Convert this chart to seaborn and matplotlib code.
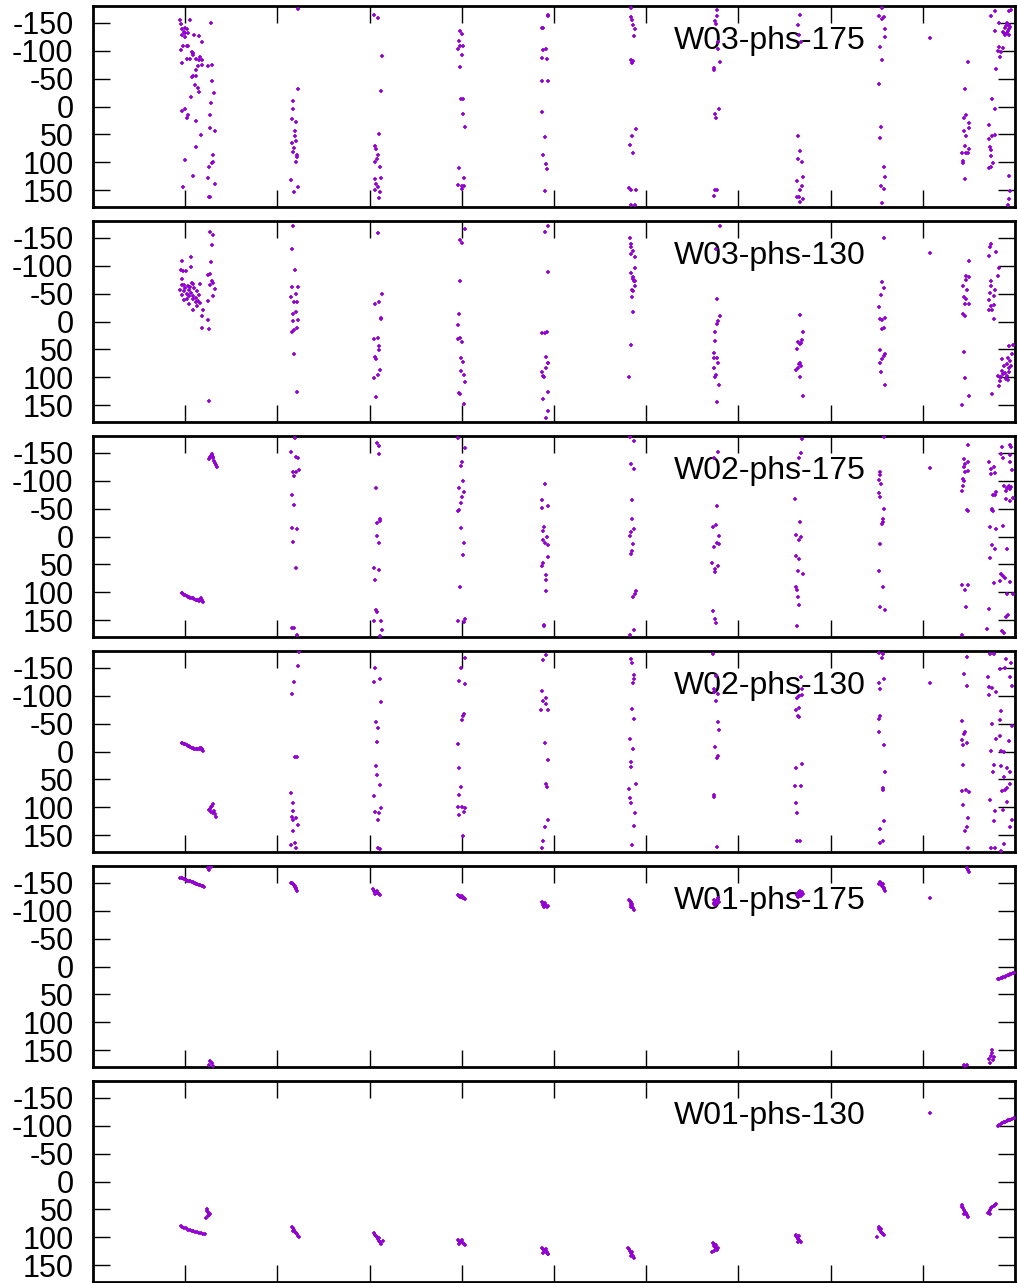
import matplotlib
matplotlib.use("Agg")
import matplotlib.pyplot as plt
import seaborn as sns
import pandas as pd

# ---------------- data (x, phase in degrees) ----------------
W03_175 = [
    (0.94,-155),(0.95,-148),(1.05,-155),(1.28,-150),(0.97,-138),(1.00,-140),(1.02,-138),(0.99,-134),(0.97,-128),(1.00,-131),
    (1.03,-131),(1.10,-128),(1.15,-126),(1.00,-124),(1.18,-115),(0.98,-109),(1.02,-108),(1.03,-108),(0.95,-102),(1.07,-97),
    (1.08,-93),(1.09,-96),(1.16,-88),(1.15,-84),(1.02,-85),(1.05,-85),(1.12,-85),(1.18,-84),(0.96,-78),(1.25,-73),
    (1.14,-73),(1.18,-75),(1.29,-74),(1.12,-65),(1.09,-54),(1.07,-52),(1.12,-55),(1.29,-46),(1.11,-39),(1.14,-33),
    (1.15,-26),(1.31,-24),(1.06,-17),(1.28,-7),(0.96,8),(1.00,5),(1.03,15),(1.02,21),(1.27,15),(1.12,26),
    (1.27,38),(1.32,44),(1.17,51),(1.12,72),(1.30,87),(1.30,100),(1.29,102),(1.26,109),(1.00,96),(1.08,125),
    (1.25,128),(1.32,139),(0.98,145),(1.26,162),(1.27,162),
    (2.22,-174),(2.22,-32),(2.17,-10),(2.17,5),(2.16,22),(2.20,28),(2.19,44),(2.19,53),(2.20,62),(2.16,66),
    (2.18,74),(2.17,81),(2.21,87),(2.21,90),(2.20,100),(2.15,131),(2.22,144),(2.18,154),
    (3.05,-164),(3.09,-158),(3.13,-90),(3.12,-27),(3.10,49),(3.06,71),(3.07,77),(3.09,87),(3.08,94),(3.06,100),
    (3.11,108),(3.06,130),(3.12,128),(3.07,138),(3.09,145),(3.06,149),(3.11,154),(3.10,163),
    (3.98,-136),(4.00,-130),(3.97,-117),(3.98,-109),(4.01,-109),(3.96,-103),(4.00,-93),(3.98,-71),(3.99,-14),(4.01,-13),
    (4.01,14),(4.03,37),(3.97,111),(4.02,128),(3.96,140),(4.00,143),(4.02,142),(4.00,148),
    (4.93,-164),(4.94,-162),(4.87,-140),(4.88,-140),(4.88,-102),(4.91,-103),(4.87,-86),(4.92,-85),(4.87,-45),(4.93,-45),
    (4.87,10),(4.90,55),(4.88,86),(4.91,103),(4.92,112),(4.90,152),
    (5.83,-176),(5.84,-160),(5.85,-155),(5.86,-146),(5.88,-139),(5.87,-127),(5.84,-84),(5.86,-82),(5.85,-78),(5.89,41),
    (5.85,53),(5.82,69),(5.86,83),(5.81,146),(5.83,150),(5.89,149),(5.83,176),(5.88,176),
    (6.77,-173),(6.77,-162),(6.75,-154),(6.76,-148),(6.78,-115),(6.78,-103),(6.80,-80),(6.73,-69),(6.73,-65),(6.79,5),
    (6.75,13),(6.76,20),(6.75,149),(6.77,149),(6.74,161),
    (7.67,-164),(7.65,-146),(7.66,-128),(7.68,-115),(7.65,53),(7.67,80),(7.65,94),(7.69,99),(7.64,134),(7.70,127),
    (7.69,142),(7.67,149),(7.64,162),(7.66,162),(7.70,166),(7.67,171),
    (8.56,-176),(8.53,-162),(8.58,-160),(8.56,-157),(8.59,-138),(8.59,-124),(8.54,-106),(8.56,-84),(8.53,-41),(8.55,36),
    (8.54,56),(8.58,108),(8.59,127),(8.55,142),(8.58,148),(8.56,172),
    (9.49,-79),(9.46,-32),(9.45,20),(9.47,16),(9.50,30),(9.50,38),(9.45,44),(9.47,52),(9.46,71),(9.50,77),
    (9.43,83),(9.47,84),(9.49,84),(9.44,97),(9.44,102),(9.46,130),
    (9.74,-162),(9.78,-171),(9.93,-171),(9.96,-172),(9.83,-149),(9.91,-149),(9.93,-146),(9.89,-140),(9.93,-138),(9.87,-134),
    (9.91,-131),(9.78,-136),(9.89,-128),(9.94,-128),(9.83,-106),(9.87,-105),(9.82,-99),(9.85,-97),(9.84,-89),(9.79,-67),
    (9.75,-13),(9.78,5),(9.72,33),(9.78,51),(9.75,53),(9.72,58),(9.73,72),(9.74,78),(9.74,89),(9.76,102),
    (9.74,109),(9.72,111),(9.94,124),(9.95,151),(9.93,166),(9.92,176),(9.90,-145),(9.92,-136),(9.88,-132),(9.95,-142),
]

W03_130 = [
    (0.96,-108),(1.06,-115),(1.06,-97),(0.95,-93),(0.98,-90),(1.01,-90),(0.96,-76),(0.97,-65),(0.99,-65),(0.94,-56),
    (0.99,-55),(1.03,-63),(1.07,-69),(1.09,-67),(1.10,-60),(1.16,-67),(1.04,-57),(1.06,-51),(1.02,-49),(1.13,-54),
    (1.15,-48),(1.09,-45),(1.02,-40),(0.99,-39),(1.04,-32),(1.14,-37),(1.12,-35),(1.16,-33),(1.13,-27),(1.08,-21),
    (1.19,-20),(1.18,-10),(1.25,-2),(1.18,12),(1.26,14),(1.25,-37),(1.30,-45),(1.27,-65),(1.32,-59),(1.29,-73),
    (1.30,-69),(1.25,-84),(1.27,-85),(1.28,-106),(1.29,-137),(1.30,-155),(1.27,-161),(1.26,143),(1.00,-60),(1.04,-45),
    (1.12,-42),(1.05,-62),(1.08,-40),(0.97,-48),
    (2.17,-171),(2.16,-130),(2.19,-93),(2.16,-61),(2.22,-61),(2.20,-50),(2.15,-43),(2.18,-35),(2.21,-35),(2.20,-17),
    (2.17,-13),(2.17,-1),(2.22,-2),(2.18,15),(2.16,19),(2.21,11),(2.18,58),(2.21,127),
    (3.09,-158),(3.13,-49),(3.06,-32),(3.10,-35),(3.12,-7),(3.12,-4),(3.05,32),(3.09,30),(3.10,44),(3.10,51),
    (3.06,63),(3.07,68),(3.11,86),(3.09,96),(3.05,102),(3.07,135),
    (4.03,-166),(3.98,-146),(4.00,-141),(3.98,-72),(3.97,-13),(3.96,7),(3.96,31),(3.98,30),(4.00,36),(3.99,65),
    (4.01,73),(3.99,89),(4.02,96),(4.03,109),(3.97,128),(3.98,130),(4.02,147),
    (4.93,-171),(4.90,-161),(4.93,-89),(4.87,20),(4.90,20),(4.92,18),(4.91,63),(4.93,74),(4.94,74),(4.91,83),
    (4.87,90),(4.88,97),(4.89,100),(4.94,127),(4.88,139),(4.93,160),(4.91,172),
    (5.82,-150),(5.83,-138),(5.83,-133),(5.86,-127),(5.83,-121),(5.88,-115),(5.88,-96),(5.83,-86),(5.86,-79),(5.88,-73),
    (5.88,-64),(5.86,-55),(5.85,-56),(5.85,-44),(5.86,-17),(5.84,42),(5.81,99),(5.87,-73),(5.86,-77),
    (6.80,-171),(6.76,-130),(6.77,-41),(6.80,-10),(6.78,-1),(6.77,5),(6.75,18),(6.75,35),(6.73,56),(6.74,65),
    (6.77,65),(6.78,74),(6.74,83),(6.76,96),(6.75,100),(6.79,113),(6.77,145),
    (7.67,-11),(7.70,18),(7.65,37),(7.68,38),(7.69,34),(7.64,50),(7.67,74),(7.68,80),(7.66,76),(7.65,84),
    (7.63,86),(7.67,100),(7.70,133),(7.67,41),
    (8.58,-149),(8.56,-70),(8.58,-60),(8.55,-48),(8.53,-26),(8.54,-5),(8.56,-2),(8.59,-7),(8.56,14),(8.58,11),
    (8.54,51),(8.58,62),(8.59,59),(8.56,68),(8.54,74),(8.55,90),(8.59,114),
    (9.50,-109),(9.47,-81),(9.50,-79),(9.47,-74),(9.44,-64),(9.48,-57),(9.45,-43),(9.47,-40),(9.46,-32),(9.50,-32),
    (9.44,-13),(9.46,-10),(9.45,54),(9.46,102),(9.50,134),(9.43,150),
    (9.74,-138),(9.73,-133),(9.72,-117),(9.79,-124),(9.83,-96),(9.82,-82),(9.74,-73),(9.74,-63),(9.78,-57),(9.73,-51),
    (9.77,-46),(9.72,-39),(9.74,-27),(9.77,-29),(9.75,-21),(9.72,-21),(9.77,-4),(9.75,130),(9.94,44),(9.98,42),
    (9.86,68),(9.92,65),(9.95,71),(9.88,80),(9.91,77),(9.96,80),(9.86,89),(9.93,84),(9.82,97),(9.84,99),
    (9.87,94),(9.91,97),(9.90,103),(9.84,106),(9.92,105),(9.83,115),(9.97,59),(9.89,92),(9.85,100),(9.94,90),
]

W02_175 = [
    (0.96,101),(0.97,102),(0.99,104),(1.00,105),(1.02,106),(1.03,108),(1.04,109),(1.05,110),(1.07,110),(1.09,111),
    (1.10,112),(1.12,113),(1.13,113),(1.14,114),(1.15,115),(1.16,113),(1.17,111),(1.18,114),(1.19,117),(1.18,116),
    (1.29,-148),(1.28,-144),(1.26,-138),(1.30,-140),(1.31,-136),(1.32,-132),(1.33,-128),(1.34,-124),(1.27,-142),(1.29,-146),
    (1.30,-143),
    (2.19,-176),(2.15,-152),(2.20,-143),(2.22,-141),(2.23,-119),(2.17,-115),(2.18,-109),(2.20,-116),(2.16,-74),(2.18,-56),
    (2.16,-15),(2.21,-14),(2.17,10),(2.20,56),(2.16,164),(2.18,163),(2.21,176),
    (3.08,-168),(3.10,-162),(3.10,-147),(3.07,-87),(3.11,-31),(3.11,-27),(3.08,-24),(3.08,-1),(3.10,11),(3.05,56),
    (3.10,60),(3.06,78),(3.07,132),(3.08,135),(3.05,152),(3.12,151),(3.13,167),(3.11,178),
    (3.96,-176),(4.03,-158),(4.00,-133),(3.99,-127),(4.01,-99),(3.97,-87),(4.02,-79),(4.00,-71),(3.99,-60),(3.97,-48),
    (3.96,-46),(3.99,-15),(4.02,11),(4.01,33),(3.98,90),(3.96,151),(4.03,147),(4.02,154),
    (4.90,-94),(4.87,-65),(4.87,-51),(4.94,-54),(4.89,-17),(4.88,-10),(4.92,1),(4.88,6),(4.90,11),(4.93,15),
    (4.93,37),(4.88,47),(4.87,53),(4.91,69),(4.91,78),(4.91,98),(4.89,159),(4.89,161),
    (5.82,-178),(5.87,-171),(5.83,-130),(5.87,-121),(5.85,-65),(5.85,-32),(5.87,-13),(5.84,-8),(5.82,-1),(5.86,14),
    (5.85,26),(5.83,31),(5.89,97),(5.88,103),(5.86,109),(5.87,168),(5.82,176),
    (6.78,-152),(6.74,-141),(6.77,-55),(6.72,-17),(6.76,-20),(6.79,-1),(6.77,12),(6.74,18),(6.79,14),(6.71,47),
    (6.78,52),(6.75,59),(6.75,63),(6.72,134),(6.75,147),(6.76,155),
    (7.69,-175),(7.68,-150),(7.66,-140),(7.61,-68),(7.67,-26),(7.62,-2),(7.68,1),(7.66,7),(7.63,35),(7.66,40),
    (7.65,62),(7.70,68),(7.63,90),(7.64,96),(7.65,109),(7.66,123),(7.64,160),
    (8.58,-178),(8.54,-115),(8.54,-111),(8.53,-102),(8.55,-94),(8.53,-78),(8.54,-70),(8.58,-49),(8.57,-32),(8.56,-23),
    (8.57,-26),(8.54,13),(8.52,62),(8.57,90),(8.54,126),(8.59,132),
    (9.49,-163),(9.45,-138),(9.49,-133),(9.46,-130),(9.45,-124),(9.49,-117),(9.46,-115),(9.44,-103),(9.45,-99),(9.44,-91),
    (9.43,-81),(9.48,-47),(9.49,-45),(9.42,86),(9.49,87),(9.46,96),(9.47,127),(9.42,176),
    (9.86,-161),(9.95,-164),(9.96,-161),(9.85,-147),(9.87,-140),(9.95,-146),(9.72,-134),(9.74,-121),(9.78,-114),(9.77,-124),
    (9.95,-133),(9.97,-119),(9.74,-112),(9.88,-91),(9.91,-87),(9.95,-85),(9.93,-90),(9.96,-89),(9.90,-81),(9.79,-80),
    (9.76,-75),(9.78,-74),(9.90,-68),(9.95,-63),(9.98,-69),(9.75,-48),(9.76,-45),(9.75,-49),(9.73,-17),(9.79,-14),
    (9.87,-18),(9.75,16),(9.78,23),(9.91,23),(9.73,38),(9.87,71),(9.85,68),(9.84,80),(9.77,84),(9.89,75),
    (9.95,81),(9.91,103),(9.98,103),(9.72,129),(9.92,140),(9.70,165),(9.86,169),(9.88,173),(9.90,145),
]

W02_130 = [
    (0.96,-16),(0.97,-15),(0.99,-14),(1.00,-13),(1.02,-11),(1.03,-10),(1.04,-9),(1.05,-8),(1.07,-7),(1.09,-6),
    (1.10,-5),(1.12,-5),(1.13,-5),(1.14,-4),(1.15,-5),(1.16,-6),(1.17,-7),(1.18,-4),(1.19,-1),(1.18,-2),
    (1.30,94),(1.28,100),(1.26,105),(1.28,108),(1.31,106),(1.32,112),(1.33,117),(1.29,97),(1.27,103),(1.30,110),
    (2.23,-178),(2.22,-153),(2.18,-125),(2.16,-103),(2.19,10),(2.21,10),(2.15,75),(2.17,93),(2.17,106),(2.16,118),
    (2.20,119),(2.17,123),(2.22,132),(2.17,143),(2.15,168),(2.19,164),(2.20,173),
    (3.06,-150),(3.05,-125),(3.11,-130),(3.12,-88),(3.07,-53),(3.09,-42),(3.08,-17),(3.07,26),(3.08,42),(3.11,60),
    (3.05,80),(3.06,108),(3.10,111),(3.12,102),(3.09,122),(3.09,173),(3.11,175),
    (4.03,-167),(3.99,-149),(3.97,-127),(4.03,-121),(4.02,-67),(4.01,-63),(4.00,-57),(3.96,-13),(3.97,30),(3.99,64),
    (3.97,78),(3.96,99),(4.00,99),(4.03,102),(4.02,109),(3.97,113),(4.01,151),
    (4.91,-173),(4.88,-164),(4.87,-108),(4.91,-96),(4.88,-90),(4.91,-85),(4.86,-75),(4.93,-75),(4.90,-16),(4.94,15),
    (4.91,59),(4.92,63),(4.93,123),(4.90,135),(4.88,160),(4.87,173),
    (5.84,-165),(5.85,-158),(5.87,-137),(5.87,-130),(5.86,-122),(5.85,-76),(5.87,-59),(5.82,-23),(5.86,-5),(5.84,19),
    (5.83,28),(5.89,58),(5.81,68),(5.82,83),(5.83,93),(5.88,111),(5.87,134),(5.85,168),
    (6.72,-175),(6.76,-136),(6.74,-112),(6.73,-106),(6.78,-103),(6.76,-91),(6.78,-53),(6.79,-39),(6.75,-8),(6.78,8),
    (6.77,11),(6.73,78),(6.74,81),(6.77,171),
    (7.68,-133),(7.69,-112),(7.64,-96),(7.66,-99),(7.69,-102),(7.66,-78),(7.63,-75),(7.65,-64),(7.66,-61),(7.62,29),
    (7.69,23),(7.61,61),(7.68,62),(7.63,92),(7.64,111),(7.64,160),(7.67,161),
    (8.53,-176),(8.57,-174),(8.56,-168),(8.53,-122),(8.58,-130),(8.54,-112),(8.54,-64),(8.53,-58),(8.52,-35),(8.58,-11),
    (8.59,37),(8.57,66),(8.57,69),(8.58,124),(8.54,139),(8.57,160),(8.54,164),
    (9.48,-169),(9.45,-138),(9.48,-118),(9.43,-55),(9.46,-35),(9.45,-32),(9.42,-21),(9.48,-16),(9.44,-11),(9.44,24),
    (9.43,71),(9.47,69),(9.50,73),(9.44,96),(9.49,119),(9.48,135),(9.46,142),(9.49,173),
    (9.73,-174),(9.77,-175),(9.90,-165),(9.96,-159),(9.84,-148),(9.89,-150),(9.71,-134),(9.95,-133),(9.72,-115),(9.75,-114),
    (9.97,-117),(9.79,-106),(9.72,-102),(9.85,-73),(9.84,-57),(9.75,-50),(9.97,-45),(9.84,-27),(9.79,-23),(9.93,-18),
    (9.88,1),(9.74,-1),(9.85,-1),(9.77,24),(9.85,26),(9.91,29),(9.76,36),(9.95,36),(9.88,46),(9.86,71),
    (9.89,69),(9.91,66),(9.95,58),(9.73,86),(9.91,90),(9.78,106),(9.87,105),(9.97,123),(9.95,135),(9.77,124),
    (9.74,172),(9.78,173),(9.88,166),(9.85,178),
]

W01_175 = [
    (0.94,-159),(0.96,-158.5),(0.97,-158),(0.99,-156.5),(1.00,-156),(1.01,-154.5),(1.02,-154),(1.04,-153.5),(1.05,-153),(1.07,-151.5),
    (1.08,-151),(1.10,-149.5),(1.11,-149),(1.12,-148),(1.13,-147),(1.15,-146.5),(1.16,-146),(1.18,-145),(1.19,-144),(1.20,-142),
    (1.25,-176),(1.28,-178),(1.26,-172),(1.27,170),(1.29,173),(1.26,176),(1.30,178),
    (2.15,-149),(2.16,-150),(2.17,-148),(2.18,-146),(2.19,-144),(2.20,-140),(2.21,-136),(2.20,-138),(2.17,-147),(2.19,-142),
    (3.04,-138),(3.05,-136),(3.06,-134),(3.07,-133),(3.08,-132),(3.09,-131),(3.10,-129),(3.06,-130),(3.08,-135),(3.11,-128),
    (3.96,-128),(3.97,-127),(3.98,-126),(3.99,-125),(4.00,-124),(4.01,-123),(4.02,-122),(3.98,-124),(4.00,-126),(4.03,-121),
    (4.87,-116),(4.88,-114),(4.89,-112),(4.90,-110),(4.91,-108),(4.92,-106),(4.90,-113),(4.89,-107),(4.93,-109),(4.88,-110),
    (5.81,-120),(5.82,-117),(5.83,-114),(5.84,-111),(5.85,-108),(5.86,-105),(5.87,-102),(5.84,-115),(5.85,-112),(5.83,-106),
    (6.73,-112),(6.74,-114),(6.75,-116),(6.76,-118),(6.77,-120),(6.78,-122),(6.75,-110),(6.77,-113),(6.74,-119),(6.79,-116),
    (7.64,-128),(7.65,-131),(7.66,-134),(7.67,-130),(7.68,-127),(7.69,-133),(7.66,-126),(7.67,-136),(7.70,-129),(7.65,-124),
    (8.53,-148),(8.54,-152),(8.55,-150),(8.56,-146),(8.57,-142),(8.58,-139),(8.59,-136),(8.56,-144),(8.57,-148),(8.58,-140),
    (9.48,-176),(9.49,-172),(9.50,-170),(9.45,176),(9.46,178),(9.48,177),
    (9.72,165),(9.74,160),(9.75,155),(9.76,168),(9.77,162),(9.73,172),(9.75,150),
    (9.82,23),(9.83,22),(9.85,21),(9.86,20),(9.87,19),(9.89,18),(9.90,17),(9.92,16),(9.93,15),(9.95,14),
    (9.96,13),(9.98,12.5),(9.99,12),
]

W01_130 = [
    (0.95,80),(0.97,81),(0.99,83),(1.01,84),(1.03,86),(1.05,87),(1.07,88),(1.09,89),(1.11,90),(1.13,91),
    (1.15,92),(1.17,93),(1.19,94),(1.21,94.5),
    (1.24,50),(1.25,54),(1.26,56),(1.27,58),(1.25,62),(1.23,65),(1.26,60),(1.24,52),
    (2.16,81),(2.17,84),(2.18,86),(2.19,90),(2.20,92),(2.21,94),(2.22,97),(2.23,99),(2.17,88),
    (3.05,93),(3.06,95),(3.07,97),(3.08,100),(3.09,103),(3.10,106),(3.11,108),(3.12,112),(3.14,106),(3.10,101),
    (3.96,104),(3.97,106),(3.98,108),(3.99,108),(4.01,110),(4.02,112),(4.03,113),(3.97,112),(4.00,105),
    (4.87,119),(4.88,121),(4.89,123),(4.90,124),(4.91,126),(4.92,127),(4.93,129),(4.94,130),(4.88,128),(4.91,120),
    (5.80,119),(5.81,121),(5.82,124),(5.83,126),(5.84,128),(5.85,131),(5.86,133),(5.87,137),(5.85,126),(5.83,134),
    (6.72,110),(6.73,112),(6.74,115),(6.75,117),(6.76,120),(6.77,122),(6.78,119),(6.71,127),(6.74,124),(6.76,113),
    (7.62,96),(7.63,98),(7.64,100),(7.65,103),(7.66,104),(7.67,107),(7.68,109),(7.66,97),(7.65,108),
    (8.52,82),(8.53,85),(8.54,87),(8.55,90),(8.56,92),(8.57,94),(8.58,96),(8.50,100),(8.55,85),
    (9.42,42),(9.43,45),(9.44,48),(9.45,51),(9.46,54),(9.47,57),(9.48,60),(9.49,63),(9.45,58),
    (9.71,57),(9.72,54),(9.73,51),(9.74,48),(9.75,46),(9.77,44),(9.78,42),(9.79,41),(9.73,58),
    (9.82,-100),(9.83,-101),(9.85,-103),(9.86,-105),(9.88,-106),(9.89,-107),(9.91,-109),(9.92,-110),(9.94,-110.5),(9.95,-111),
    (9.97,-112),(9.99,-113.5),
]

PANELS = [("W03-phs-175", W03_175), ("W03-phs-130", W03_130),
          ("W02-phs-175", W02_175), ("W02-phs-130", W02_130),
          ("W01-phs-175", W01_175), ("W01-phs-130", W01_130)]

XTICKS = [1, 2, 3, 4, 5, 6, 7, 8, 9]
YTICKS = [-150, -100, -50, 0, 50, 100, 150]
YTICK_LABELS = ["-150", "-100", "-50", "0", "50", "100", "150"]

PURPLE = "#9400d3"

# ---------------- figure ----------------
sns.set_theme(style="white")
plt.rcParams["font.family"] = ["Liberation Sans", "DejaVu Sans"]
plt.rcParams["axes.unicode_minus"] = False
plt.rcParams["text.color"] = "black"

W, H = 1017, 1283
fig = plt.figure(figsize=(W / 100, H / 100), dpi=100)
left_px, right_px = 93, 1015
panel_h = 201
step = 215

for k, (label, pts) in enumerate(PANELS):
    top = 6 + step * k
    ax = fig.add_axes([left_px / W, 1 - (top + panel_h) / H,
                       (right_px - left_px) / W, panel_h / H])
    df = pd.DataFrame(pts, columns=["x", "y"])
    sns.scatterplot(data=df, x="x", y="y", ax=ax, marker="+", color=PURPLE,
                    s=10, linewidth=1.2, label=label, zorder=3)
    ax.set_xlim(0, 10)
    ax.set_ylim(180, -180)
    ax.set_xticks(XTICKS)
    ax.set_xticklabels([])
    ax.set_yticks(YTICKS)
    ax.set_yticklabels(YTICK_LABELS)
    ax.set_xlabel("")
    ax.set_ylabel("")
    ax.tick_params(axis="both", direction="in", length=12, width=1.0, color="black",
                   top=True, bottom=True, left=True, right=True,
                   labelsize=22, pad=14, labelcolor="black")
    for sp in ax.spines.values():
        sp.set_linewidth(2.0)
        sp.set_color("black")
    leg = ax.legend(loc="center right", bbox_to_anchor=(0.956, 0.825), frameon=False,
                    markerfirst=False, handletextpad=0.6, handlelength=2.8,
                    borderpad=0, borderaxespad=0, scatterpoints=1,
                    scatteryoffsets=[0.5], fontsize=23, labelcolor="black")
    leg.set_zorder(1)

fig.savefig("out.png", dpi=100)
